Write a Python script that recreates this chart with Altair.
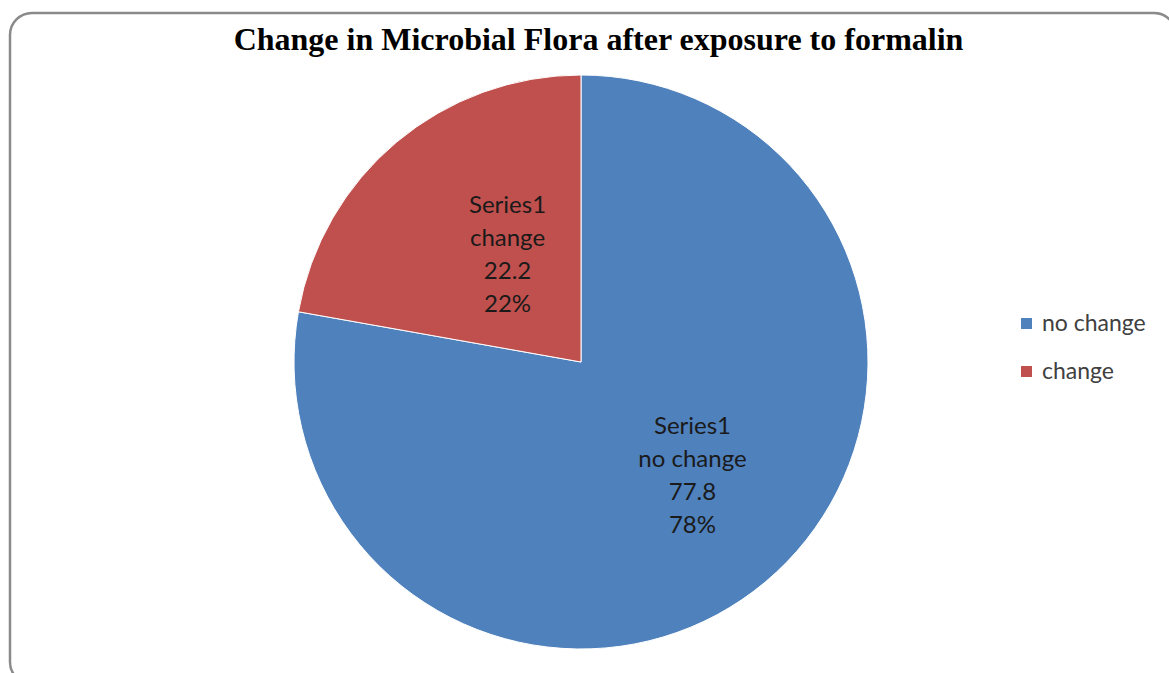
import altair as alt
import pandas as pd

categories = ["no change", "change"]
values = [77.8, 22.2]
percents = ["78%", "22%"]
series = ["Series1", "Series1"]
colors = ["#4F81BD", "#C0504D"]

df = pd.DataFrame({
    "category": categories,
    "value": values,
    "pct": percents,
    "series": series,
    "order": list(range(len(categories))),
})
df["label"] = df["series"] + "\n" + df["category"] + "\n" + df["value"].map(lambda v: f"{v:.1f}") + "\n" + df["pct"]

W, H = 1169, 673
CX, CY, R = 581, 362, 287

frame = alt.Chart(alt.Data(values=[{}])).mark_rect(
    fill="white", stroke="#8a8a8a", strokeWidth=2.5, cornerRadius=22
).encode(x=alt.value(10), x2=alt.value(1176), y=alt.value(13), y2=alt.value(684))

pie = alt.Chart(df).mark_arc(radius=R, stroke="white", strokeWidth=1).encode(
    theta=alt.Theta("value:Q", stack=True),
    order=alt.Order("order:Q"),
    x=alt.value(CX), y=alt.value(CY),
    color=alt.Color(
        "category:N",
        scale=alt.Scale(domain=categories, range=colors),
        legend=alt.Legend(
            title=None, orient="none", legendX=1015, legendY=312,
            symbolType="square", symbolSize=120, symbolStrokeWidth=0,
            labelFont="Lato", labelFontSize=23, labelColor="#404040",
            labelOffset=4, rowPadding=24,
            labelExpr="datum.label == 'change' ? '\u00a0change' : datum.label",
        ),
    ),
)

lab_kw = dict(font="Lato", fontSize=24, color="#1a1a1a", lineBreak="\n",
              lineHeight=33, align="center", baseline="middle", dx=10, dy=-56)


def label_layer(cat, rad):
    return alt.Chart(df).transform_window(
        cum="sum(value)", sort=[alt.SortField("order")]
    ).transform_joinaggregate(
        total="sum(value)"
    ).transform_calculate(
        mid="(datum.cum - datum.value / 2) / datum.total"
    ).transform_filter(
        alt.datum.category == cat
    ).mark_text(radius=rad, **lab_kw).encode(
        theta=alt.Theta("mid:Q", scale=alt.Scale(domain=[0, 1]), stack=False),
        x=alt.value(CX), y=alt.value(CY),
        text="label:N",
    )


chart = alt.layer(
    frame, pie, label_layer("no change", 158), label_layer("change", 130)
).resolve_scale(theta="independent").properties(
    width=W, height=H,
    autosize=alt.AutoSizeParams(type="none"),
    padding=0,
    title=alt.TitleParams(
        "Change in Microbial Flora after exposure to formalin",
        font="Liberation Serif", fontSize=32, fontWeight="bold", color="#000000",
        anchor="middle", baseline="middle", offset=0, dy=72, dx=14,
    ),
).configure_view(stroke=None)

chart.save("out.html", embed_options={"renderer": "svg", "actions": False})
